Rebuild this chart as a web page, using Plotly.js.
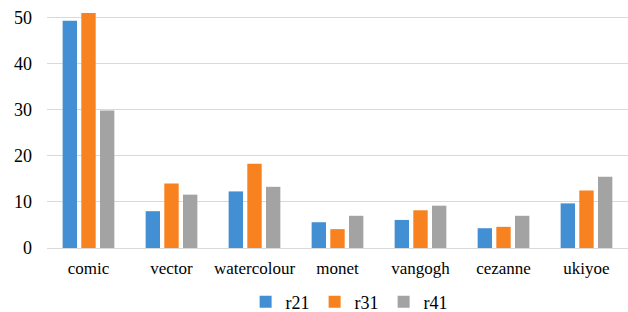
<!DOCTYPE html>
<html>
<head>
<meta charset="utf-8">
<script src="https://cdn.plot.ly/plotly-3.0.1.min.js"></script>
<style>html,body{margin:0;padding:0;background:#fff;}#chart{width:628px;height:312px;}</style>
</head>
<body>
<div id="chart"></div>
<script>
const categories = ["comic", "vector", "watercolour", "monet", "vangogh", "cezanne", "ukiyoe"];
const r21 = [49.4, 8.0, 12.3, 5.6, 6.1, 4.3, 9.7];
const r31 = [51.1, 14.0, 18.3, 4.1, 8.2, 4.6, 12.5];
const r41 = [29.9, 11.6, 13.3, 7.0, 9.2, 7.0, 15.5];
const seriesNames = ["r21", "r31", "r41"];
const yTicks = [0, 10, 20, 30, 40, 50];

const colors = ["#4290D3", "#F7821F", "#A3A3A3"];
const serif = "Liberation Serif, Times New Roman, serif";
const traces = [r21, r31, r41].map((vals, i) => ({
  type: "bar",
  name: seriesNames[i],
  x: categories,
  y: vals,
  marker: {color: colors[i], line: {width: 0}},
  hoverinfo: "skip"
}));

const layout = {
  width: 628, height: 312,
  margin: {l: 47, r: 0, t: 0, b: 64, autoexpand: false},
  paper_bgcolor: "#fff", plot_bgcolor: "#fff",
  barmode: "group",
  bargap: 0.325,
  bargroupgap: 0.23,
  showlegend: true,
  font: {family: serif, color: "#000"},
  legend: {
    orientation: "h", x: 0.52, xanchor: "center",
    yref: "container", y: 0.032, yanchor: "middle",
    bgcolor: "rgba(0,0,0,0)",
    font: {family: serif, size: 18, color: "#000"},
    itemwidth: 30, traceorder: "normal"
  },
  xaxis: {
    type: "category",
    range: [-0.5, 6.5],
    showgrid: false, zeroline: false, showline: false,
    ticks: "", ticklabelstandoff: 8,
    tickfont: {family: serif, size: 17, color: "#000"}
  },
  yaxis: {
    range: [0, 53.9],
    tickvals: yTicks,
    ticktext: yTicks.map(String),
    showgrid: true, gridcolor: "#D9D9D9", gridwidth: 1,
    zeroline: true, zerolinecolor: "#D9D9D9", zerolinewidth: 1,
    showline: false, ticks: "", ticklabelstandoff: 14,
    tickfont: {family: serif, size: 18, color: "#000"}
  }
};

Plotly.newPlot("chart", traces, layout, {staticPlot: true, displayModeBar: false});
</script>
</body>
</html>
